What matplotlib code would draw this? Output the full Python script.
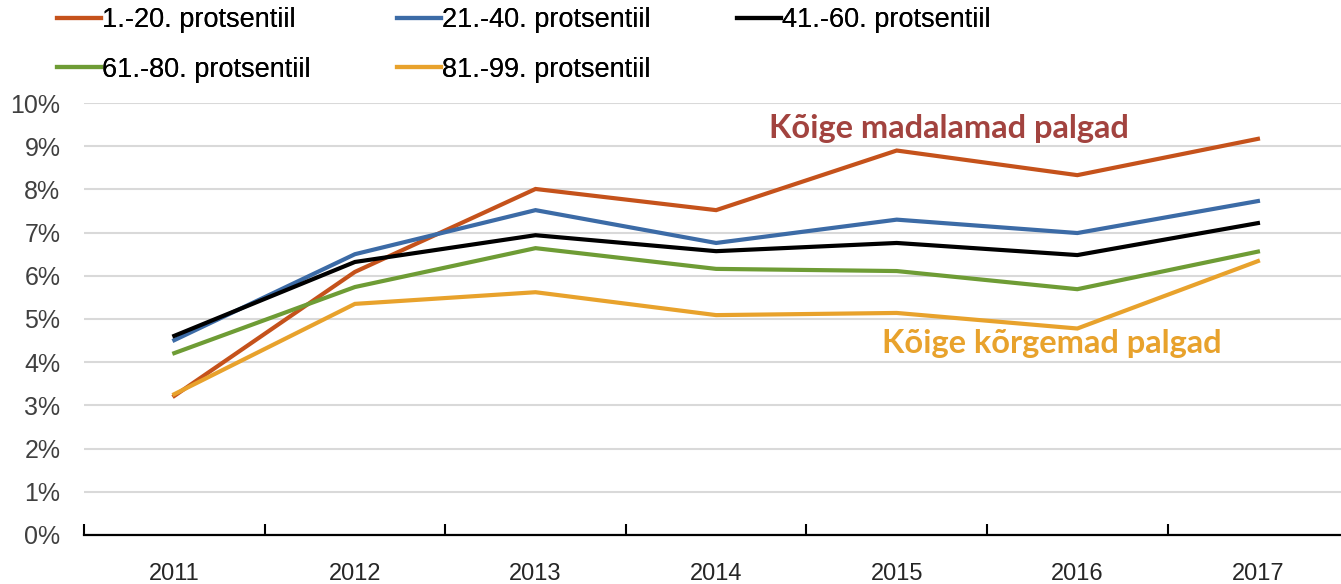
import matplotlib
matplotlib.use("Agg")
import matplotlib.pyplot as plt
from matplotlib.ticker import FixedLocator, PercentFormatter

years = ["2011", "2012", "2013", "2014", "2015", "2016", "2017"]
p1_20 = [3.22, 6.09, 8.01, 7.52, 8.90, 8.33, 9.17]
p21_40 = [4.51, 6.50, 7.52, 6.76, 7.30, 6.99, 7.73]
p41_60 = [4.61, 6.32, 6.94, 6.57, 6.76, 6.48, 7.22]
p61_80 = [4.21, 5.74, 6.64, 6.16, 6.11, 5.69, 6.56]
p81_99 = [3.26, 5.35, 5.62, 5.09, 5.14, 4.78, 6.34]
labels = ["1.-20. protsentiil", "21.-40. protsentiil", "41.-60. protsentiil",
          "61.-80. protsentiil", "81.-99. protsentiil"]
colors = ["#C5521B", "#3C6BA6", "#000000", "#6E9C35", "#E8A22C"]
series = [p1_20, p21_40, p41_60, p61_80, p81_99]

W, H = 1341, 584
fig = plt.figure(figsize=(W / 100, H / 100), dpi=100)
ax = fig.add_axes([84 / W, (H - 535) / H, (W - 84) / W, 432 / H])

x = list(range(len(years)))
handles = []
for s, c, lab in zip(series, colors, labels):
    h, = ax.plot(x, s, color=c, lw=3.0, label=lab, solid_joinstyle="miter", zorder=3)
    handles.append(h)

ax.set_ylim(0, 10)
ax.set_xlim(-0.5, 6.46)
ax.yaxis.set_major_locator(FixedLocator(range(0, 11)))
ax.yaxis.set_major_formatter(PercentFormatter(decimals=0))
ax.grid(axis="y", color="#D9D9D9", lw=1.5, zorder=0)
ax.set_axisbelow(True)
for sp in ["top", "right", "left"]:
    ax.spines[sp].set_visible(False)
ax.spines["bottom"].set_linewidth(1.6)
ax.spines["bottom"].set_zorder(4)

tick_font = ["Liberation Sans", "DejaVu Sans"]
ax.set_xticks([i - 0.5 for i in range(len(years))])
ax.set_xticklabels([])
ax.set_xticks(x, minor=True)
ax.set_xticklabels(years, minor=True, fontsize=17, family=tick_font, color="#262626")
ax.tick_params(axis="x", which="major", direction="in", length=8, width=1.5, color="black")
ax.tick_params(axis="x", which="minor", length=0, pad=20)
ax.tick_params(axis="y", length=0, pad=17, labelsize=18, labelcolor="#404040")
for t in ax.get_yticklabels():
    t.set_family(tick_font)

ax.text(4.29, 9.40, "Kõige madalamad palgad", color="#A2433F", fontsize=23.5,
        fontweight="bold", family=["Lato", "DejaVu Sans"], ha="center", va="center")
ax.text(4.86, 4.44, "Kõige kõrgemad palgad", color="#E8A22C", fontsize=23.5,
        fontweight="bold", family=["Lato", "DejaVu Sans"], ha="center", va="center")

# legend laid out in rows: three columns placed at fixed figure positions
columns = [[0, 3], [1, 4], [2]]
col_x = [52, 392, 732]
for idxs, cx in zip(columns, col_x):
    leg = fig.legend(handles=[handles[i] for i in idxs], labels=[labels[i] for i in idxs],
                     loc="upper left", ncol=1,
                     bbox_to_anchor=(cx / W, 1.0 - 2 / H), frameon=False,
                     prop={"family": ["Liberation Sans", "DejaVu Sans"], "size": 19.5},
                     handlelength=1.6, handletextpad=0.05,
                     labelspacing=0.86, borderaxespad=0.1, borderpad=0.1)
    fig.add_artist(leg)

fig.savefig("out.png", dpi=100)
